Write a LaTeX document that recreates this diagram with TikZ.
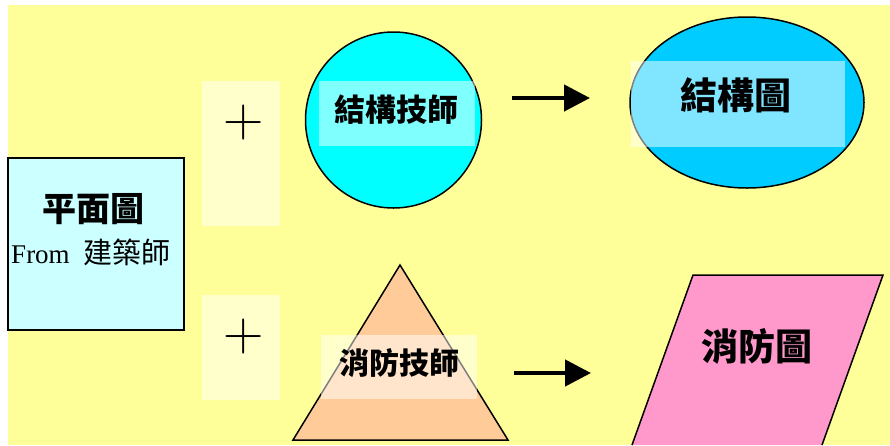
\documentclass[tikz,border=0pt]{standalone}
\usepackage{fontspec}
\newfontfamily\cjk{Noto Sans CJK TC}
\newfontfamily\timesfont{Liberation Serif}
\usetikzlibrary{arrows.meta, shapes.geometric}
\definecolor{cpaper}{HTML}{FFFF99}
\definecolor{cplan}{HTML}{CCFFFF}
\definecolor{ccyan}{HTML}{00FFFF}
\definecolor{csky}{HTML}{00CCFF}
\definecolor{cpeach}{HTML}{FFCC99}
\definecolor{cpink}{HTML}{FF99CC}
\tikzset{
  every picture/.style={line width=1.5pt, x=1pt, y=-1pt},
  planbox/.style={draw, fill=cplan, minimum width=176pt, minimum height=172pt, inner sep=0pt},
  veil/.style={fill=white, fill opacity=0.5, inner sep=0pt},
  title/.style={font=\cjk\bfseries\fontsize{#1}{#1}\selectfont, inner sep=0pt},
  title/.default=30,
  arrow/.style={-{Triangle[length=26pt, width=26pt]}, line width=4.5pt},
  plus/.style={font=\fontsize{56}{56}\selectfont, inner sep=0pt},
}

\begin{document}
\begin{tikzpicture}
  \useasboundingbox (0,0) rectangle (890,445);
  \fill[cpaper] (8,5) rectangle (890,445);
  % plan from the architect
  \node[planbox] (plan) at (96,244) {};
  \node[title=34] (plantitle) at (93,209) {平面圖};
  \node[inner sep=0pt] (plansrc) at (91,252) {\timesfont\fontsize{27}{27}\selectfont From\hspace{14pt}{\cjk\fontsize{29}{29}\selectfont 建築師}};
  % plus panels
  \node[veil, minimum width=78pt, minimum height=145pt] (pan1) at (241,153.5) {};
  \node[veil, minimum width=78pt, minimum height=105pt] (pan2) at (241,347.5) {};
  \node[plus] (plus1) at (244,123) {+};
  \node[plus] (plus2) at (244,337) {+};
  % structure
  \node[draw, circle, fill=ccyan, minimum size=176pt, inner sep=0pt] (stech) at (393.5,120) {};
  \node[veil, minimum width=156pt, minimum height=65pt] (sveil) at (397,113.5) {};
  \node[title=31] (stechtxt) at (396,110) {結構技師};
  \coordinate (sarrs) at (512,98);
  \coordinate (sarre) at (590,98);
  \draw[arrow] (sarrs) -- (sarre);
  \node[draw, ellipse, fill=csky, minimum width=234pt, minimum height=171pt, inner sep=0pt] (splan) at (747,102.5) {};
  \node[veil, minimum width=214pt, minimum height=86pt] (spveil) at (738,104) {};
  \node[title=37] (splantxt) at (736,95) {結構圖};
  % fire
  \draw[fill=cpeach] (400,265) -- (508,440) -- (293,440) -- cycle;
  \node[veil, minimum width=156pt, minimum height=64pt] (fveil) at (399,367) {};
  \node[title] (ftechtxt) at (399,363) {消防技師};
  \coordinate (farrs) at (514,373);
  \coordinate (farre) at (591,373);
  \draw[arrow] (farrs) -- (farre);
  \fill[cpink] (693,275) -- (883,275) -- (822,445) -- (632,445) -- cycle;
  \draw (632,445) -- (693,275) -- (883,275) -- (822,445);
  \node[title=37] (fplantxt) at (757,346) {消防圖};
\end{tikzpicture}
\end{document}
